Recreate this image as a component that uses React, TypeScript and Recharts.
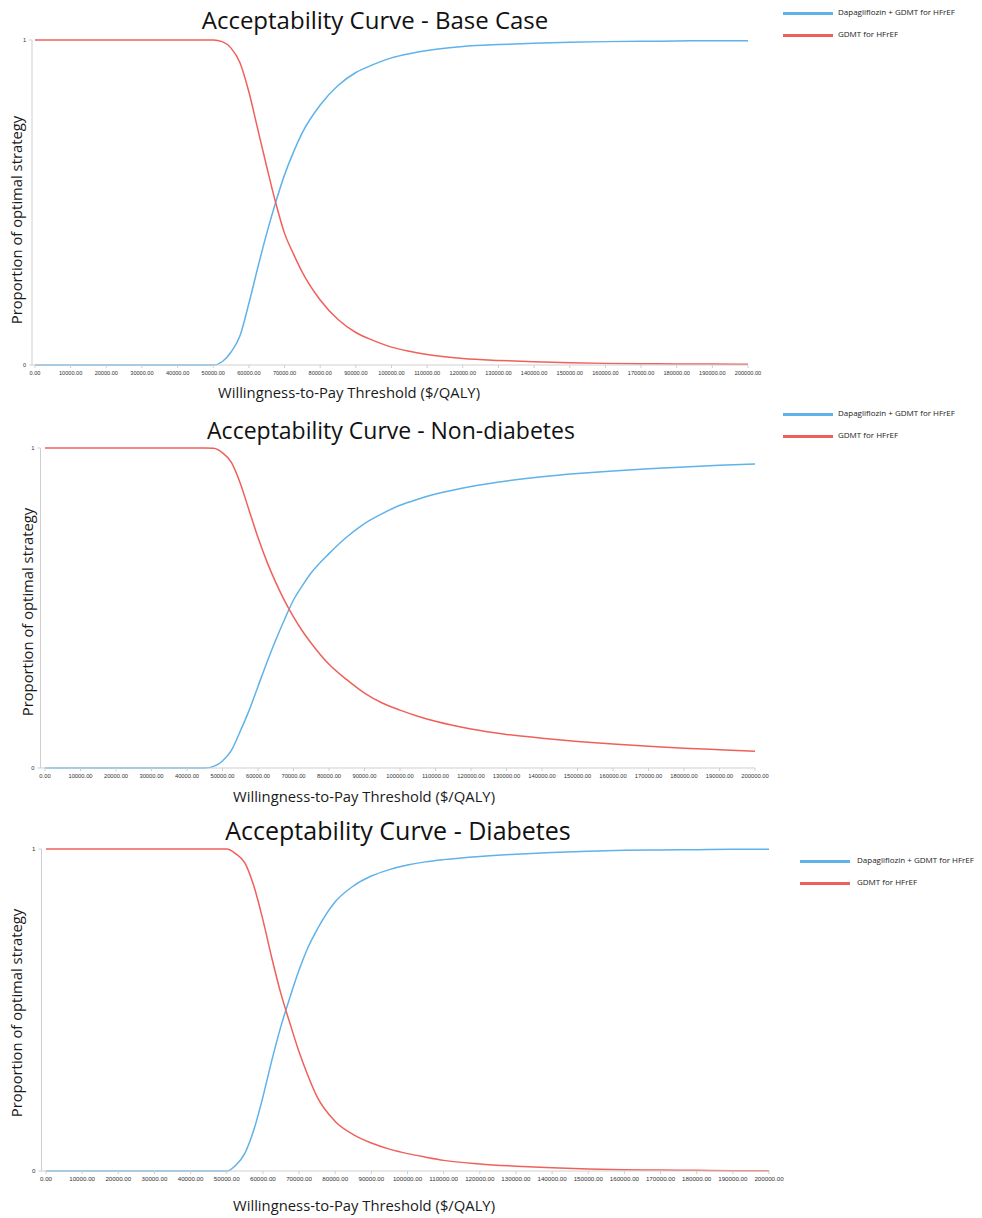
import React from 'react';
import { LineChart, Line, XAxis, YAxis } from 'recharts';

// Willingness-to-pay thresholds ($/QALY)
const wtp = [0, 10000, 20000, 30000, 40000, 45000, 47500, 50000, 52500, 55000, 57500, 60000, 62500, 65000, 67500, 70000, 72500, 75000, 80000, 85000, 90000, 95000, 100000, 105000, 110000, 120000, 130000, 140000, 150000, 160000, 170000, 180000, 190000, 200000];

// Base case
const baseDapa = [0, 0, 0, 0, 0, 0, 0, 0, 0.01, 0.04, 0.09, 0.19, 0.3, 0.405, 0.5, 0.585, 0.655, 0.715, 0.8, 0.86, 0.9, 0.925, 0.945, 0.958, 0.968, 0.98, 0.986, 0.99, 0.993, 0.995, 0.996, 0.997, 0.998, 0.998];
const baseGdmt = [1, 1, 1, 1, 1, 1, 1, 1, 0.995, 0.975, 0.93, 0.84, 0.725, 0.61, 0.5, 0.405, 0.342, 0.285, 0.2, 0.14, 0.1, 0.075, 0.055, 0.042, 0.032, 0.02, 0.014, 0.01, 0.007, 0.005, 0.004, 0.003, 0.003, 0.002];

// Non-diabetes
const nonDapa = [0, 0, 0, 0, 0, 0, 0.005, 0.022, 0.055, 0.115, 0.18, 0.255, 0.33, 0.4, 0.465, 0.525, 0.57, 0.61, 0.67, 0.722, 0.764, 0.795, 0.821, 0.84, 0.856, 0.88, 0.897, 0.91, 0.92, 0.928, 0.935, 0.941, 0.946, 0.95];
const nonGdmt = [1, 1, 1, 1, 1, 1, 0.999, 0.985, 0.955, 0.89, 0.805, 0.72, 0.645, 0.58, 0.522, 0.472, 0.428, 0.39, 0.324, 0.276, 0.234, 0.203, 0.181, 0.162, 0.146, 0.122, 0.105, 0.093, 0.083, 0.075, 0.068, 0.062, 0.057, 0.052];

// Diabetes
const diaDapa = [0, 0, 0, 0, 0, 0, 0, 0, 0.018, 0.055, 0.128, 0.23, 0.345, 0.45, 0.54, 0.624, 0.695, 0.75, 0.836, 0.885, 0.916, 0.936, 0.95, 0.96, 0.967, 0.977, 0.984, 0.989, 0.993, 0.996, 0.997, 0.998, 0.999, 0.999];
const diaGdmt = [1, 1, 1, 1, 1, 1, 1, 1, 0.985, 0.957, 0.885, 0.78, 0.66, 0.55, 0.458, 0.37, 0.295, 0.23, 0.154, 0.113, 0.087, 0.068, 0.054, 0.043, 0.033, 0.022, 0.015, 0.01, 0.006, 0.004, 0.003, 0.002, 0.001, 0.001];

const xTicks = [0, 10000, 20000, 30000, 40000, 50000, 60000, 70000, 80000, 90000, 100000, 110000, 120000, 130000, 140000, 150000, 160000, 170000, 180000, 190000, 200000];
const yTicks = [0, 1];

const seriesNames = ['Dapagliflozin + GDMT for HFrEF', 'GDMT for HFrEF'];
const BLUE = '#5fb2ea';
const RED = '#f0605b';
const FONT = '"Open Sans", "Noto Sans", sans-serif';
const TICK_FONT = '"Liberation Sans", Arial, sans-serif';

const build = (a: number[], b: number[]) => wtp.map((w, i) => ({ wtp: w, dapa: a[i], gdmt: b[i] }));

const AxisTitle = (p: any) => (
  <text
    x={p.tx}
    y={p.ty}
    textAnchor="middle"
    dominantBaseline="central"
    transform={p.rot ? `rotate(-90 ${p.tx} ${p.ty})` : undefined}
    fontSize={p.fs}
    fill="#1a1a1a"
    fontFamily={FONT}
  >
    {p.text}
  </text>
);

type PanelCfg = {
  title: string;
  titleFs: number;
  data: any[];
  top: number;
  height: number;
  axisX: number;
  zeroX: number;
  endX: number;
  oneY: number;
  zeroY: number;
  titleX: number;
  titleY: number;
  xLabX: number;
  xLabY: number;
  yLabX: number;
  yLabY: number;
  legX: number;
  legY: number;
  legTextX: number;
  tickFs: number;
};

const panels: PanelCfg[] = [
  { title: 'Acceptability Curve - Base Case', titleFs: 24, data: build(baseDapa, baseGdmt), top: 0, height: 420, axisX: 32, zeroX: 35, endX: 748, oneY: 40, zeroY: 365, titleX: 375, titleY: 20, xLabX: 349, xLabY: 392, yLabX: 16, yLabY: 220, legX: 783, legY: 13, legTextX: 838, tickFs: 5.6 },
  { title: 'Acceptability Curve - Non-diabetes', titleFs: 23, data: build(nonDapa, nonGdmt), top: 400, height: 420, axisX: 40.5, zeroX: 45, endX: 755, oneY: 448, zeroY: 768, titleX: 391, titleY: 430, xLabX: 364, xLabY: 796, yLabX: 27, yLabY: 612, legX: 783, legY: 414, legTextX: 838, tickFs: 5.8 },
  { title: 'Acceptability Curve - Diabetes', titleFs: 25, data: build(diaDapa, diaGdmt), top: 800, height: 418, axisX: 41.5, zeroX: 46, endX: 769, oneY: 849, zeroY: 1171, titleX: 398, titleY: 830, xLabX: 364, xLabY: 1204.5, yLabX: 16, yLabY: 1013, legX: 800, legY: 861, legTextX: 857, tickFs: 6.2 },
];

const Y_AXIS_W = 22;
const X_AXIS_H = 30;
const LABEL_FS = 14.8;

function Panel({ p }: { p: PanelCfg }) {
  const W = 982;
  const margin = {
    top: p.oneY - p.top,
    left: p.axisX - Y_AXIS_W,
    right: W - p.endX,
    bottom: p.height - (p.zeroY - p.top) - X_AXIS_H,
  };
  return (
    <div style={{ position: 'absolute', left: 0, top: p.top, width: W, height: p.height }}>
      <LineChart width={W} height={p.height} data={p.data} margin={margin} style={{ overflow: 'visible' }}>
        <XAxis
          dataKey="wtp"
          type="number"
          domain={[0, 200000]}
          ticks={xTicks}
          interval={0}
          tickFormatter={(v: number) => v.toFixed(2)}
          padding={{ left: p.zeroX - p.axisX, right: 0 }}
          height={X_AXIS_H}
          stroke="#cfcfcf"
          tickSize={3}
          tickMargin={3}
          tick={{ fontSize: p.tickFs, fill: '#333', fontFamily: TICK_FONT }}
          label={<AxisTitle tx={p.xLabX} ty={p.xLabY - p.top} fs={LABEL_FS} text="Willingness-to-Pay Threshold ($/QALY)" />}
        />
        <YAxis
          type="number"
          domain={[0, 1]}
          ticks={yTicks}
          width={Y_AXIS_W}
          stroke="#cfcfcf"
          tickSize={3}
          tickMargin={3}
          tick={{ fontSize: p.tickFs, fill: '#333', fontFamily: TICK_FONT }}
          label={<AxisTitle tx={p.yLabX} ty={p.yLabY - p.top} fs={LABEL_FS} rot text="Proportion of optimal strategy" />}
        />
        <Line type="monotone" dataKey="dapa" name={seriesNames[0]} stroke={BLUE} strokeWidth={1.5} dot={false} isAnimationActive={false} />
        <Line type="monotone" dataKey="gdmt" name={seriesNames[1]} stroke={RED} strokeWidth={1.5} dot={false} isAnimationActive={false} />
      </LineChart>
      <div
        style={{
          position: 'absolute',
          left: p.titleX,
          top: p.titleY - p.top,
          transform: 'translate(-50%, -50%)',
          whiteSpace: 'nowrap',
          fontFamily: FONT,
          fontSize: p.titleFs,
          color: '#111',
          lineHeight: 1,
        }}
      >
        {p.title}
      </div>
      {seriesNames.map((n, i) => (
        <div key={n}>
          <div
            style={{
              position: 'absolute',
              left: p.legX,
              top: p.legY - p.top + i * 22 - 1.5,
              width: 50,
              height: 3,
              background: i === 0 ? BLUE : RED,
            }}
          />
          <div
            style={{
              position: 'absolute',
              left: p.legTextX,
              top: p.legY - p.top + i * 22 - 1,
              transform: 'translateY(-50%)',
              whiteSpace: 'nowrap',
              fontFamily: FONT,
              fontSize: 8,
              color: '#222',
              lineHeight: 1,
            }}
          >
            {n}
          </div>
        </div>
      ))}
    </div>
  );
}

export default function App() {
  return (
    <div style={{ position: 'absolute', left: 0, top: 0, width: 982, height: 1218, background: '#fff' }}>
      {panels.map((p) => (
        <Panel key={p.title} p={p} />
      ))}
    </div>
  );
}
